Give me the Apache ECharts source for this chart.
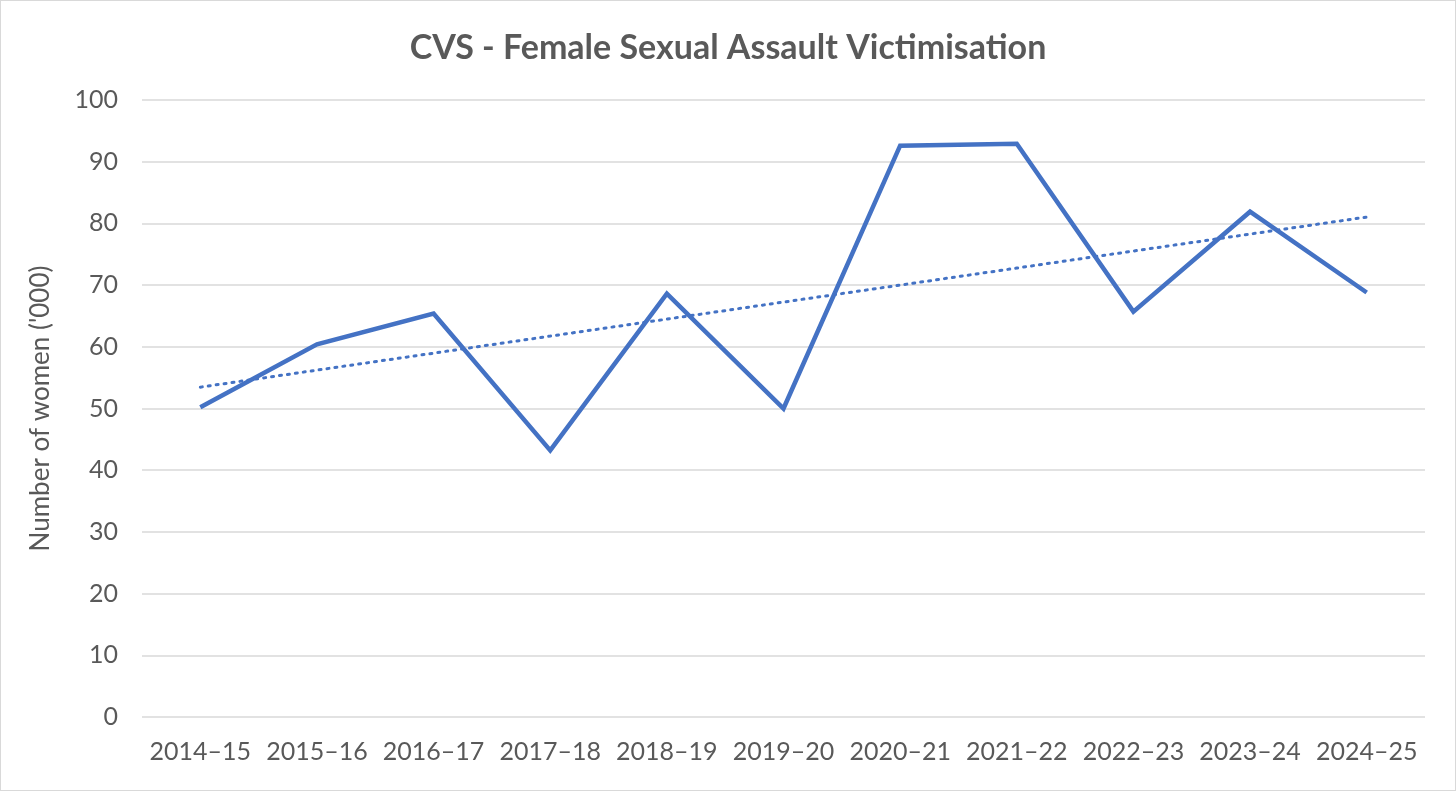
<!DOCTYPE html>
<html>
<head>
<meta charset="utf-8">
<script src="https://cdn.jsdelivr.net/npm/echarts@6/dist/echarts.min.js"></script>
<style>
  html, body { margin: 0; padding: 0; background: #fff; }
  #main { width: 1456px; height: 791px; box-sizing: border-box; border: 1px solid #d9d9d9; }
</style>
</head>
<body>
<div id="main"></div>
<script>
var years = ['2014–15', '2015–16', '2016–17', '2017–18', '2018–19', '2019–20',
             '2020–21', '2021–22', '2022–23', '2023–24', '2024–25'];
var women = [50.2, 60.4, 65.4, 43.2, 68.6, 50.0, 92.6, 92.9, 65.7, 81.9, 68.8];
var yTicks = [0, 10, 20, 30, 40, 50, 60, 70, 80, 90, 100];

// linear trend line (least squares) from the series itself
function linearTrend(vals) {
    var n = vals.length, sx = 0, sy = 0, sxy = 0, sxx = 0;
    for (var i = 0; i < n; i++) {
        sx += i; sy += vals[i]; sxy += i * vals[i]; sxx += i * i;
    }
    var b = (n * sxy - sx * sy) / (n * sxx - sx * sx);
    var a = (sy - b * sx) / n;
    var out = [];
    for (var j = 0; j < n; j++) out.push(+(a + b * j).toFixed(2));
    return out;
}
var trend = linearTrend(women);

var font = 'Lato, "Open Sans", sans-serif';
var myChart = echarts.init(document.getElementById('main'));
var option = {
    animation: false,
    title: {
        text: 'CVS - Female Sexual Assault Victimisation',
        left: 'center',
        top: 25,
        textStyle: { fontFamily: font, fontSize: 34, fontWeight: 'bold', color: '#595959' }
    },
    grid: { left: 141, right: 30, top: 99, bottom: 73 },
    xAxis: {
        type: 'category',
        data: years,
        boundaryGap: true,
        axisLine: { show: false },
        axisTick: { show: false },
        axisLabel: { fontFamily: font, fontSize: 25, color: '#595959', margin: 22, interval: 0, hideOverlap: false }
    },
    yAxis: {
        type: 'value',
        min: yTicks[0],
        max: yTicks[yTicks.length - 1],
        interval: 10,
        name: "Number of women ('000)",
        nameLocation: 'middle',
        nameGap: 88,
        nameTextStyle: { fontFamily: font, fontSize: 26, color: '#595959' },
        axisLine: { show: false },
        axisTick: { show: false },
        axisLabel: { fontFamily: font, fontSize: 25, color: '#595959', margin: 24 },
        splitLine: { lineStyle: { color: '#d9d9d9', width: 1.5 } }
    },
    series: [
        {
            name: 'Victims',
            type: 'line',
            data: women,
            symbol: 'none',
            lineStyle: { color: '#4472C4', width: 4.5, join: 'miter' },
            z: 3
        },
        {
            name: 'Trend',
            type: 'line',
            data: trend,
            symbol: 'none',
            lineStyle: { color: '#4472C4', width: 3, type: [2, 6], cap: 'round' },
            z: 2
        }
    ]
};
myChart.setOption(option);
</script>
</body>
</html>
